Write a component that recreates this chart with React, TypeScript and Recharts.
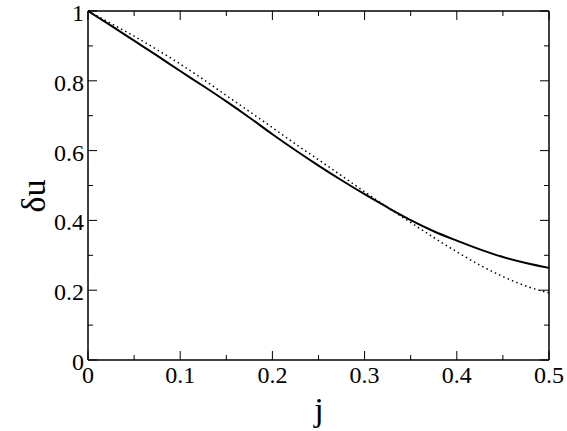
import React from 'react';
import { LineChart, Line, XAxis, YAxis } from 'recharts';

const jValues = [0, 0.025, 0.05, 0.075, 0.1, 0.125, 0.15, 0.175, 0.2, 0.225, 0.25, 0.275, 0.3, 0.325, 0.35, 0.375, 0.4, 0.425, 0.45, 0.475, 0.5];
const solidValues = [1.0, 0.958, 0.915, 0.872, 0.828, 0.785, 0.741, 0.695, 0.647, 0.601, 0.557, 0.515, 0.475, 0.437, 0.401, 0.369, 0.342, 0.317, 0.295, 0.278, 0.264];
const dottedValues = [1.0, 0.964, 0.928, 0.889, 0.848, 0.804, 0.758, 0.712, 0.666, 0.619, 0.574, 0.528, 0.482, 0.437, 0.394, 0.351, 0.31, 0.272, 0.239, 0.212, 0.192];

const xTicks = [0, 0.05, 0.1, 0.15, 0.2, 0.25, 0.3, 0.35, 0.4, 0.45, 0.5];
const yTicks = [0, 0.1, 0.2, 0.3, 0.4, 0.5, 0.6, 0.7, 0.8, 0.9, 1];
const xLabelStep = 0.1;
const yLabelStep = 0.2;
const xTitle = 'j';
const yTitle = 'δu';

const data = jValues.map((j, i) => ({ j, solid: solidValues[i], dotted: dottedValues[i] }));

const FONT = "'Liberation Serif', 'DejaVu Serif', serif";
const textStyle = { fontFamily: FONT };
const MAJOR = 9;
const MINOR = 5;

const isMajor = (v: number, step: number) => Math.abs(v / step - Math.round(v / step)) < 1e-6;

const BottomTick = (props: any) => {
  const { x, y, payload } = props;
  const v = payload.value;
  const major = isMajor(v, xLabelStep);
  return (
    <g>
      <line x1={x} x2={x} y1={y} y2={y - (major ? MAJOR : MINOR)} stroke="#000" strokeWidth={1} />
      {major && (
        <text x={x} y={y + 23} textAnchor="middle" style={textStyle} fontSize={24} fill="#000">
          {String(v)}
        </text>
      )}
    </g>
  );
};

const TopTick = (props: any) => {
  const { x, y, payload } = props;
  const major = isMajor(payload.value, xLabelStep);
  return <line x1={x} x2={x} y1={y} y2={y + (major ? MAJOR : MINOR)} stroke="#000" strokeWidth={1} />;
};

const LeftTick = (props: any) => {
  const { x, y, payload } = props;
  const v = payload.value;
  const major = isMajor(v, yLabelStep);
  return (
    <g>
      <line x1={x} x2={x + (major ? MAJOR : MINOR)} y1={y} y2={y} stroke="#000" strokeWidth={1} />
      {major && (
        <text x={x - 4} y={y + 10} textAnchor="end" style={textStyle} fontSize={24} fill="#000">
          {String(v)}
        </text>
      )}
    </g>
  );
};

const RightTick = (props: any) => {
  const { x, y, payload } = props;
  const major = isMajor(payload.value, yLabelStep);
  return <line x1={x} x2={x - (major ? MAJOR : MINOR)} y1={y} y2={y} stroke="#000" strokeWidth={1} />;
};

const axisLine = { stroke: '#000', strokeWidth: 1.5 };

export default function App() {
  return (
    <div style={{ position: 'absolute', left: 0, top: 0, width: 567, height: 431, background: '#fff', fontFamily: FONT }}>
      <LineChart width={567} height={431} data={data} margin={{ top: 0, right: 0, bottom: 0, left: 0 }} style={{ fontFamily: FONT }}>
        <XAxis
          xAxisId="bottom"
          dataKey="j"
          type="number"
          domain={[0, 0.5]}
          ticks={xTicks}
          interval={0}
          orientation="bottom"
          height={71}
          tickSize={0}
          tickMargin={0}
          tickLine={false}
          axisLine={axisLine}
          tick={<BottomTick />}
        />
        <XAxis
          xAxisId="top"
          dataKey="j"
          type="number"
          domain={[0, 0.5]}
          ticks={xTicks}
          interval={0}
          orientation="top"
          height={11}
          tickSize={0}
          tickMargin={0}
          tickLine={false}
          axisLine={axisLine}
          tick={<TopTick />}
        />
        <YAxis
          yAxisId="left"
          type="number"
          domain={[0, 1]}
          ticks={yTicks}
          interval={0}
          orientation="left"
          width={88}
          tickSize={0}
          tickMargin={0}
          tickLine={false}
          axisLine={axisLine}
          tick={<LeftTick />}
        />
        <YAxis
          yAxisId="right"
          type="number"
          domain={[0, 1]}
          ticks={yTicks}
          interval={0}
          orientation="right"
          width={18}
          tickSize={0}
          tickMargin={0}
          tickLine={false}
          axisLine={axisLine}
          tick={<RightTick />}
        />
        <Line
          xAxisId="bottom"
          yAxisId="left"
          type="monotone"
          dataKey="dotted"
          stroke="#000"
          strokeWidth={1.5}
          strokeDasharray="1.5 3.2"
          dot={false}
          isAnimationActive={false}
        />
        <Line
          xAxisId="bottom"
          yAxisId="left"
          type="monotone"
          dataKey="solid"
          stroke="#000"
          strokeWidth={2}
          dot={false}
          isAnimationActive={false}
        />
        <Line
          xAxisId="top"
          yAxisId="right"
          type="monotone"
          dataKey="solid"
          stroke="none"
          dot={false}
          isAnimationActive={false}
        />
      </LineChart>
      <svg width={567} height={431} style={{ position: 'absolute', left: 0, top: 0, pointerEvents: 'none' }}>
        <text x={319} y={421} textAnchor="middle" style={textStyle} fontSize={34} fill="#000">
          {xTitle}
        </text>
        <text
          x={0}
          y={0}
          transform="translate(45,196) rotate(-90)"
          textAnchor="middle"
          style={textStyle}
          fontSize={34}
          fill="#000"
        >
          {yTitle}
        </text>
      </svg>
    </div>
  );
}
